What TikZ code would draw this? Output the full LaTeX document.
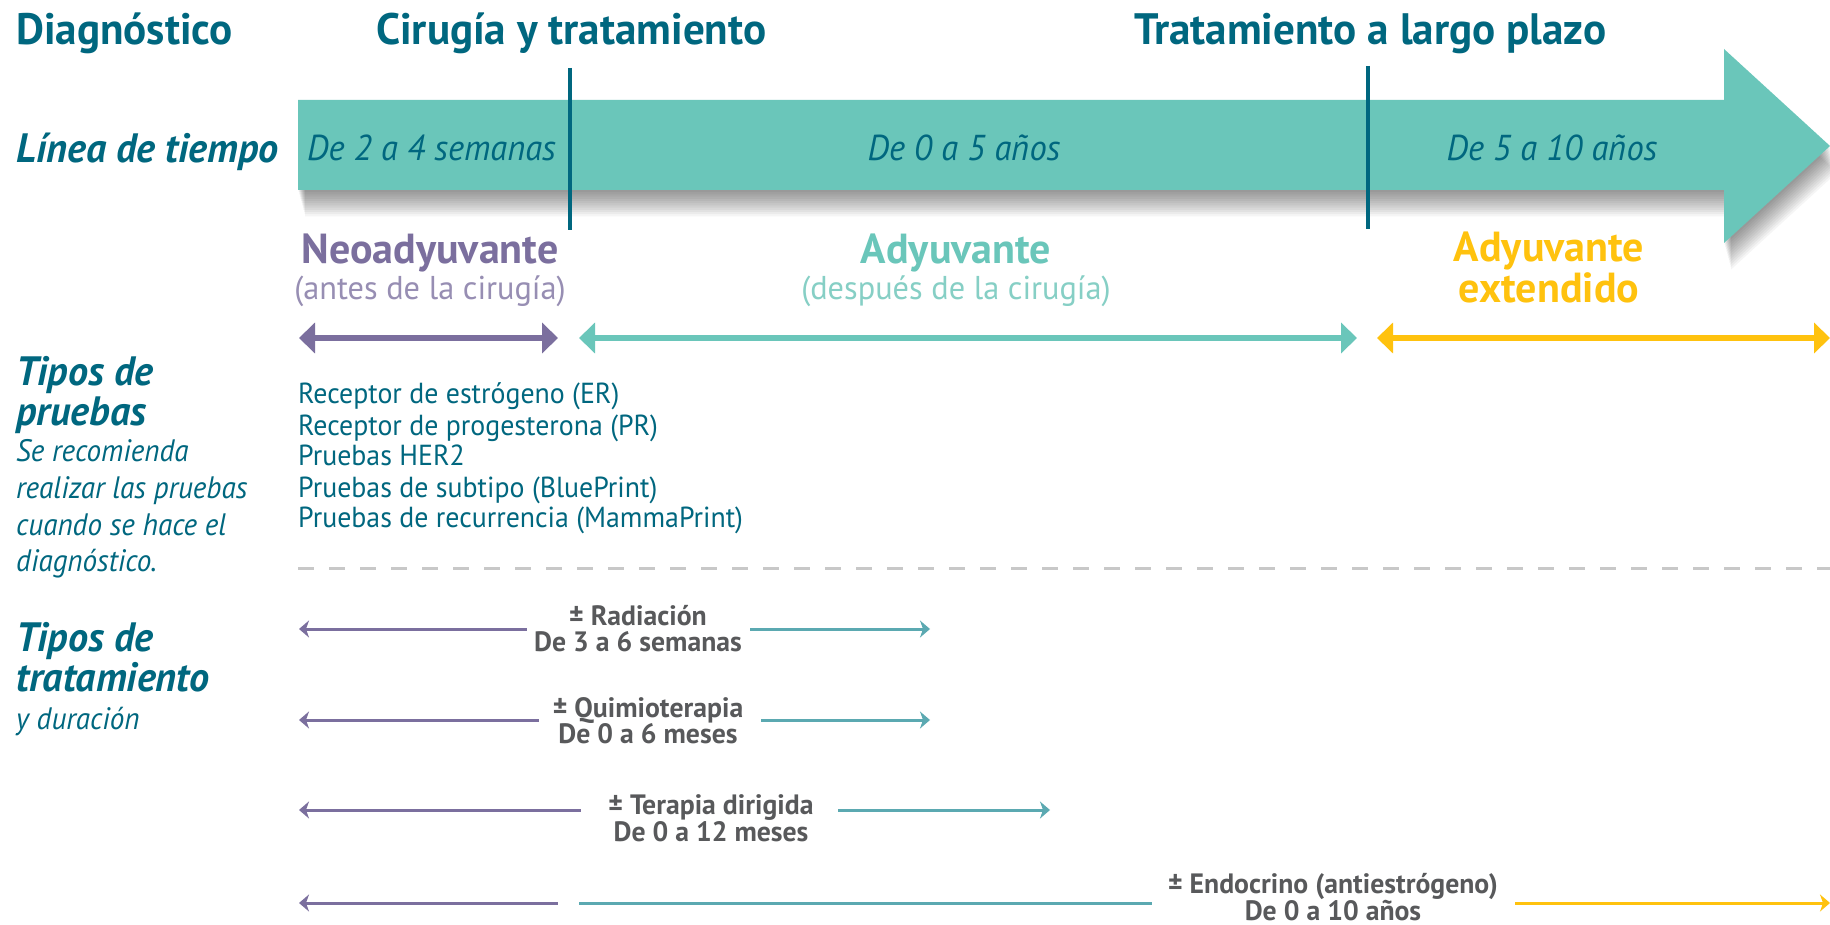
\documentclass[tikz,border=0pt]{standalone}
\usepackage{fontspec}
\setmainfont{PT Sans}
\newfontfamily\hdrfont{PT Sans}[FakeStretch=0.98]
\newfontfamily\tlfont{PT Sans}[FakeStretch=0.96]
\newfontfamily\phfont{PT Sans}[FakeStretch=1.0]
\newfontfamily\sidefont{PT Sans}[FakeStretch=0.94]
\newfontfamily\testfont{PT Sans}[FakeStretch=0.96]
\newfontfamily\trtfont{PT Sans}[FakeStretch=0.99]
\usetikzlibrary{arrows.meta}
\definecolor{dteal}{HTML}{00677F}
\definecolor{mint}{HTML}{6AC6BA}
\definecolor{purp}{HTML}{7B6F9E}
\definecolor{lpurp}{HTML}{978EB3}
\definecolor{lmint}{HTML}{86CFC5}
\definecolor{yel}{HTML}{FFC20E}
\definecolor{tgray}{HTML}{58595B}
\definecolor{tline}{HTML}{5BA9B1}
\definecolor{dashc}{HTML}{C8C8C8}
\tikzset{
  lbl/.style={inner sep=0pt, text depth=0pt},
  hdr/.style={lbl, font=\hdrfont\bfseries\fontsize{44}{48}\selectfont, text=dteal, text height=31pt},
  tl/.style={lbl, font=\tlfont\itshape\fontsize{36}{40}\selectfont, text=dteal, text height=25pt},
  tlb/.style={lbl, font=\hdrfont\bfseries\itshape\fontsize{41}{45}\selectfont, text=dteal, text height=29pt},
  phase/.style={lbl, font=\phfont\bfseries\fontsize{42}{46}\selectfont, text height=29pt},
  phsub/.style={lbl, font=\hdrfont\fontsize{33}{37}\selectfont, text height=23pt},
  side/.style={lbl, font=\sidefont\itshape\fontsize{31}{34}\selectfont, text=dteal, text height=22pt},
  test/.style={lbl, font=\testfont\fontsize{29}{32}\selectfont, text=dteal, text height=20pt},
  trt/.style={lbl, font=\trtfont\bfseries\fontsize{28}{30}\selectfont, text=tgray, text height=20pt},
  arrowshape/.style={insert path={(298,100) -- (1724,100) -- (1724,49) -- (1830,146) -- (1724,243) -- (1724,190) -- (298,190) -- cycle}},
  thick arrow/.style={line width=5.5pt, {Triangle[length=16pt,width=30pt]}-{Triangle[length=16pt,width=30pt]}},
  thinl/.style={line width=3pt, {Stealth[length=10pt,width=17pt,inset=3pt]}-},
  thinr/.style={line width=3pt, -{Stealth[length=10pt,width=17pt,inset=3pt]}},
  plain/.style={line width=3pt}
}
\begin{document}
\begin{tikzpicture}[x=1pt,y=-1pt]
\useasboundingbox (0,0) rectangle (1830,925);
\fill[white] (0,0) rectangle (1830,925);
% shadow
\foreach \i in {1,...,12}{
  \fill[black, opacity=0.04, shift={(\i*0.6,\i*2.2)}, arrowshape];
}
\fill[mint, arrowshape];
% headers
\node[hdr, anchor=west] (diag) at (16,29) {Diagnóstico};
\node[hdr, anchor=west] (cir) at (376,29) {Cirugía y tratamiento};
\node[hdr, anchor=west] (largo) at (1134,29) {Tratamiento a largo plazo};
% dividers
\coordinate (d1t) at (570,68); \coordinate (d1b) at (570,230);
\coordinate (d2t) at (1368,66); \coordinate (d2b) at (1368,229);
\draw[dteal, line width=3.5pt] (d1t) -- (d1b);
\draw[dteal, line width=3.5pt] (d2t) -- (d2b);
% timeline texts
\node[tlb, anchor=west] (linea) at (16,148) {Línea de tiempo};
\node[tl, anchor=west] (t1) at (307,148) {De 2 a 4 semanas};
\node[tl] (t2) at (964,148) {De 0 a 5 años};
\node[tl] (t3) at (1552,148) {De 5 a 10 años};
% phases
\node[phase, text=purp] (neo) at (430,249) {Neoadyuvante};
\node[phsub, text=lpurp] (neos) at (430,288) {(antes de la cirugía)};
\node[phase, text=mint] (ady) at (956,249) {Adyuvante};
\node[phsub, text=lmint] (adys) at (956,288) {(después de la cirugía)};
\node[phase, text=yel] (ext1) at (1549,247) {Adyuvante};
\node[phase, text=yel] (ext2) at (1549,288) {extendido};
% phase arrows
\coordinate (pa1) at (299,338); \coordinate (pa2) at (558,338);
\coordinate (pb1) at (579,338); \coordinate (pb2) at (1357,338);
\coordinate (pc1) at (1377,338); \coordinate (pc2) at (1830,338);
\draw[thick arrow, purp] (pa1) -- (pa2);
\draw[thick arrow, mint] (pb1) -- (pb2);
\draw[thick arrow, yel] (pc1) -- (pc2);
% tests
\node[tlb, anchor=west] (tp1) at (16,371) {Tipos de};
\node[tlb, anchor=west] (tp2) at (16,411) {pruebas};
\node[side, anchor=west] (s1) at (16,450) {Se recomienda};
\node[side, anchor=west] (s2) at (16,487) {realizar las pruebas};
\node[side, anchor=west] (s3) at (16,524) {cuando se hace el};
\node[side, anchor=west] (s4) at (16,560) {diagnóstico.};
\node[test, anchor=west] (e1) at (298,393) {Receptor de estrógeno (ER)};
\node[test, anchor=west] (e2) at (298,425) {Receptor de progesterona (PR)};
\node[test, anchor=west] (e3) at (298,455) {Pruebas HER2};
\node[test, anchor=west] (e4) at (298,487) {Pruebas de subtipo (BluePrint)};
\node[test, anchor=west] (e5) at (298,517) {Pruebas de recurrencia (MammaPrint)};
% dashed separator
\coordinate (ds1) at (298,568); \coordinate (ds2) at (1830,568);
\draw[dashc, line width=3pt, dash pattern=on 16pt off 15pt] (ds1) -- (ds2);
% treatment side
\node[tlb, anchor=west] (tt1) at (16,637) {Tipos de};
\node[tlb, anchor=west] (tt2) at (16,677) {tratamiento};
\node[side, anchor=west] (tt3) at (16,718) {y duración};
% Radiacion
\node[trt] (r1) at (638,615) {± Radiación};
\node[trt] (r2) at (638,641) {De 3 a 6 semanas};
\coordinate (ra) at (299,629); \coordinate (rb) at (527,629);
\coordinate (rc) at (750,629); \coordinate (rd) at (930,629);
\draw[thinl, purp] (ra) -- (rb);
\draw[thinr, tline] (rc) -- (rd);
% Quimioterapia
\node[trt] (q1) at (648,707) {± Quimioterapia};
\node[trt] (q2) at (648,733) {De 0 a 6 meses};
\coordinate (qa) at (299,720); \coordinate (qb) at (539,720);
\coordinate (qc) at (761,720); \coordinate (qd) at (930,720);
\draw[thinl, purp] (qa) -- (qb);
\draw[thinr, tline] (qc) -- (qd);
% Terapia dirigida
\node[trt] (g1) at (711,804) {± Terapia dirigida};
\node[trt] (g2) at (711,831) {De 0 a 12 meses};
\coordinate (ga) at (299,810); \coordinate (gb) at (581,810);
\coordinate (gc) at (838,810); \coordinate (gd) at (1050,810);
\draw[thinl, purp] (ga) -- (gb);
\draw[thinr, tline] (gc) -- (gd);
% Endocrino
\node[trt] (n1) at (1333,883) {± Endocrino (antiestrógeno)};
\node[trt] (n2) at (1333,910) {De 0 a 10 años};
\coordinate (na) at (299,903); \coordinate (nb) at (558,903);
\coordinate (nc) at (579,903); \coordinate (nd) at (1152,903);
\coordinate (ne) at (1515,903); \coordinate (nf) at (1830,903);
\draw[thinl, purp] (na) -- (nb);
\draw[plain, tline] (nc) -- (nd);
\draw[thinr, yel] (ne) -- (nf);
\end{tikzpicture}
\end{document}
